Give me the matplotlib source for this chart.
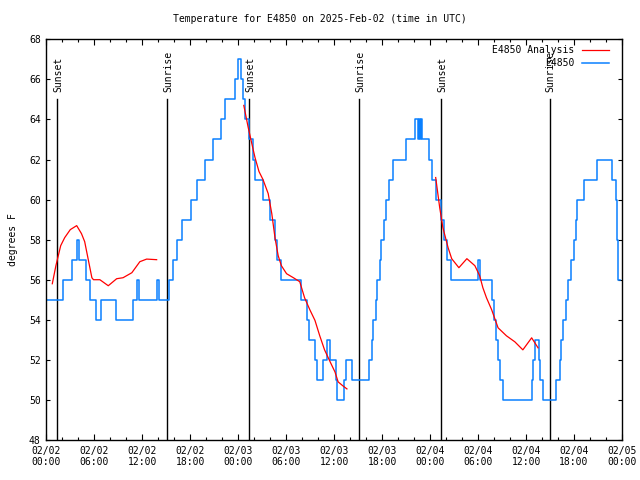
import matplotlib
matplotlib.use('Agg')
import matplotlib.pyplot as plt
import numpy as np

# ---- data (hours since 2025-02-02 00:00 UTC) ----
obs_hours = [0.0, 2.05, 3.2, 3.9, 4.15, 5.0, 5.5, 6.2, 6.9, 8.7, 10.9, 11.4, 11.6, 13.85, 14.1,
             15.3, 15.8, 16.4, 16.95, 18.1, 18.9, 19.8, 20.9, 21.9, 22.4, 23.55, 24.0, 24.35,
             24.6, 24.9, 25.3, 25.9, 26.1, 27.1, 27.95, 28.6, 28.85, 29.3, 31.9, 32.6, 32.9,
             33.6, 33.9, 34.6, 35.1, 35.5, 36.2, 36.4, 37.2, 37.5, 38.2, 40.3, 40.7, 40.9,
             41.2, 41.4, 41.7, 41.9, 42.2, 42.5, 42.8, 43.3, 45.0, 46.1, 46.45, 46.55, 46.75,
             46.85, 47.0, 47.8, 48.2, 48.7, 49.4, 49.8, 50.1, 50.6, 54.0, 54.3, 55.8, 56.0,
             56.3, 56.5, 56.8, 57.1, 60.8, 60.9, 61.1, 61.6, 61.8, 62.1, 63.8, 64.2, 64.4,
             64.6, 65.0, 65.2, 65.6, 66.0, 66.2, 66.4, 67.3, 68.9, 70.7, 71.2, 71.35, 71.5, 71.8]
obs_temps = [55, 56, 57, 58, 57, 56, 55, 54, 55, 54, 55, 56, 55, 56, 55,
             56, 57, 58, 59, 60, 61, 62, 63, 64, 65, 66, 67, 66,
             65, 64, 63, 62, 61, 60, 59, 58, 57, 56, 55, 54, 53,
             52, 51, 52, 53, 52, 51, 50, 51, 52, 51, 52, 53, 54,
             55, 56, 57, 58, 59, 60, 61, 62, 63, 64, 63, 64, 63,
             64, 63, 62, 61, 60, 59, 58, 57, 56, 57, 56, 55, 54,
             53, 52, 51, 50, 51, 52, 53, 52, 51, 50, 51, 52, 53,
             54, 55, 56, 57, 58, 59, 60, 61, 62, 61, 60, 58, 56, 56]

ana1_hours = [0.75, 1.2, 1.5, 1.8, 2.3, 3.0, 3.8, 4.4, 4.8, 5.25, 5.7, 5.9, 6.7, 7.75, 8.8,
              9.6, 10.7, 11.7, 12.55, 13.8]
ana1_temps = [55.8, 56.7, 57.2, 57.7, 58.1, 58.5, 58.7, 58.3, 57.9, 57.0, 56.1, 56.0, 56.0,
              55.7, 56.05, 56.1, 56.35, 56.9, 57.03, 57.0]
ana2_hours = [24.7, 25.25, 25.7, 26.1, 26.6, 27.1, 27.75, 28.2, 28.6, 29.0, 29.4, 30.05, 30.9,
              31.7, 32.3, 32.96, 33.6, 34.2, 34.8, 35.5, 36.1, 36.5, 37.1, 37.6]
ana2_temps = [64.7, 63.6, 62.8, 62.1, 61.4, 61.0, 60.3, 59.3, 58.1, 57.2, 56.7, 56.3, 56.1,
              55.9, 55.1, 54.5, 53.97, 53.2, 52.5, 51.9, 51.4, 50.9, 50.7, 50.55]
ana3_hours = [48.7, 49.2, 49.6, 50.25, 50.7, 51.6, 52.6, 53.6, 54.2, 54.6, 55.05, 55.7, 56.5,
              57.55, 58.6, 59.6, 60.7, 61.5]
ana3_temps = [61.1, 59.6, 58.6, 57.6, 57.05, 56.6, 57.05, 56.7, 56.2, 55.6, 55.1, 54.5, 53.6,
              53.2, 52.9, 52.5, 53.1, 52.6]

sun_hours = [1.375, 15.125, 25.375, 39.125, 49.375, 63.0]
sun_labels = ['Sunset', 'Sunrise', 'Sunset', 'Sunrise', 'Sunset', 'Sunrise']

xtick_hours = list(range(0, 73, 6))
xtick_labels = ['02/02\n00:00', '02/02\n06:00', '02/02\n12:00', '02/02\n18:00',
                '02/03\n00:00', '02/03\n06:00', '02/03\n12:00', '02/03\n18:00',
                '02/04\n00:00', '02/04\n06:00', '02/04\n12:00', '02/04\n18:00',
                '02/05\n00:00']

# ---- figure ----
plt.rcParams['font.family'] = 'DejaVu Sans Mono'
plt.rcParams['font.size'] = 7

fig = plt.figure(figsize=(6.4, 4.8), dpi=100)
ax = fig.add_axes([46.3/640, 40/480, (622-46.3)/640, (440-39.3)/480])

blue = '#0a80ff'
red = '#ff0000'

for h, lab in zip(sun_hours, sun_labels):
    ax.plot([h, h], [48, 65], color='black', lw=1.0, zorder=1)
    ax.text(h + 0.1, 65.38, lab, rotation=90, ha='center', va='bottom', fontsize=7)

ax.plot(obs_hours, obs_temps, drawstyle='steps-post', color=blue, lw=1.1, zorder=2)
ax.plot(ana1_hours, ana1_temps, color=red, lw=0.9, zorder=3, label='E4850 Analysis')
ax.plot(ana2_hours, ana2_temps, color=red, lw=0.9, zorder=3)
ax.plot(ana3_hours, ana3_temps, color=red, lw=0.9, zorder=3)

# legend drawn by hand like gnuplot's key
ax.text(574/640, 1 - 50/480, 'E4850 Analysis', transform=fig.transFigure, ha='right', va='center')
ax.text(574/640, 1 - 62.5/480, 'E4850', transform=fig.transFigure, ha='right', va='center')
ax.plot([582/640, 609/640], [1 - 50/480] * 2, color=red, lw=0.9, transform=fig.transFigure,
        clip_on=False)
ax.plot([582/640, 609/640], [1 - 62.5/480] * 2, color=blue, lw=1.1, transform=fig.transFigure,
        clip_on=False)

ax.set_xlim(0, 72)
ax.set_ylim(48, 68)
ax.set_xticks(xtick_hours)
ax.set_xticklabels(xtick_labels)
ax.set_xticks(np.arange(0, 73, 2), minor=True)
ax.set_yticks(np.arange(48, 69, 2))
ax.tick_params(which='both', direction='in', top=True, right=True, width=0.8, pad=4)
ax.tick_params(which='major', length=4)
ax.tick_params(axis='y', which='major', length=3)
ax.tick_params(which='minor', length=2)
for s in ax.spines.values():
    s.set_linewidth(1.0)

ax.set_ylabel('degrees F', labelpad=8)
fig.text(0.5, 1 - 19/480, 'Temperature for E4850 on 2025-Feb-02 (time in UTC)', ha='center',
         va='center')

plt.savefig('out.png', dpi=100)
